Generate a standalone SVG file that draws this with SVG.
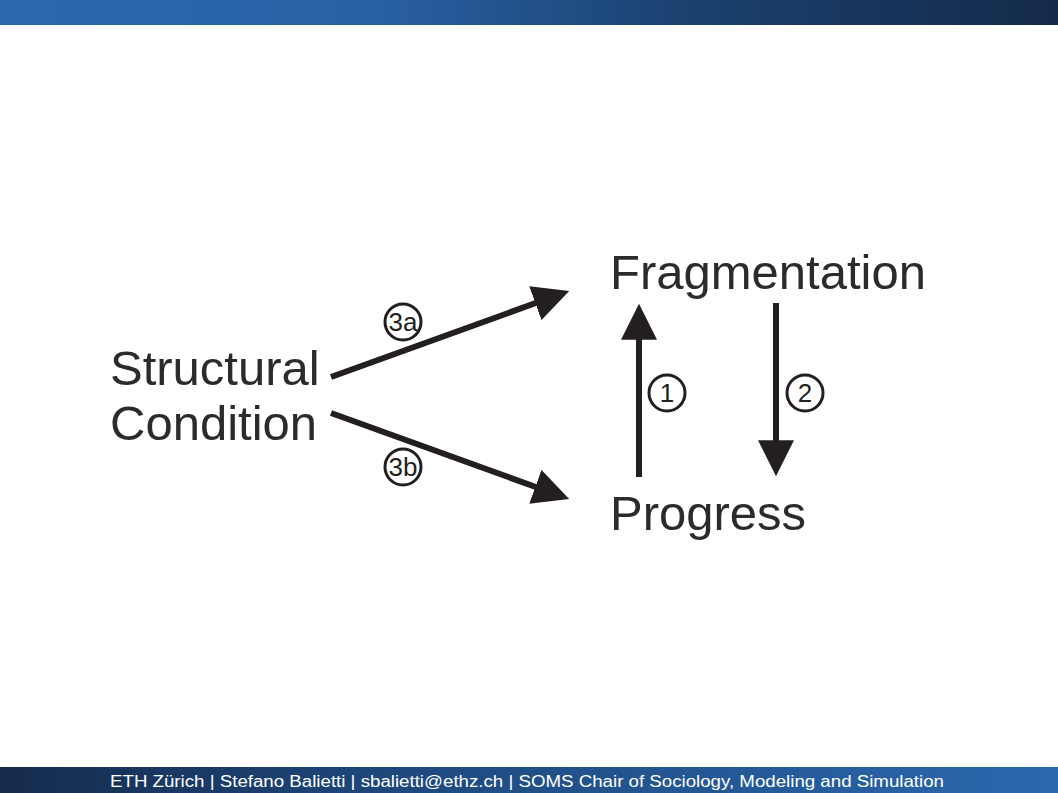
<svg xmlns="http://www.w3.org/2000/svg" width="1058" height="793" viewBox="0 0 1058 793">
<defs>
<linearGradient id="hdr" x1="0" y1="0" x2="1" y2="0">
<stop offset="0" stop-color="#2b68ae"/>
<stop offset="0.35" stop-color="#2961a4"/>
<stop offset="0.65" stop-color="#1b416f"/>
<stop offset="1" stop-color="#142a4a"/>
</linearGradient>
<linearGradient id="ftr" x1="0" y1="0" x2="1" y2="0">
<stop offset="0" stop-color="#152b4d"/>
<stop offset="0.4" stop-color="#1f4a80"/>
<stop offset="1" stop-color="#2b68ae"/>
</linearGradient>
<marker id="ah" viewBox="0 0 10 10" refX="3" refY="5" markerWidth="6" markerHeight="6" markerUnits="strokeWidth" orient="auto">
<path d="M0,0 L10,5 L0,10 Z" fill="#231f20"/>
</marker>
</defs>
<style>
.lbl{font-family:"Liberation Sans",Arial,sans-serif;font-size:49px;fill:#2b2b2b}
.num{font-family:"Liberation Sans",Arial,sans-serif;font-size:26px;fill:#231f20;text-anchor:middle}
.ring{fill:#fff;stroke:#231f20;stroke-width:3}
.edge{stroke:#231f20;stroke-width:6;fill:none;marker-end:url(#ah)}
.foot{font-family:"Liberation Sans",Arial,sans-serif;font-size:16px;fill:#fff}
</style>
<rect x="0" y="0" width="1058" height="793" fill="#fff"/>
<rect x="0" y="0" width="1058" height="25" fill="url(#hdr)"/>
<rect x="0" y="767" width="1058" height="26" fill="url(#ftr)"/>
<text class="foot" x="110" y="787" textLength="834" lengthAdjust="spacingAndGlyphs">ETH Zürich | Stefano Balietti | sbalietti@ethz.ch | SOMS Chair of Sociology, Modeling and Simulation</text>

<g id="node-structural">
<text class="lbl" x="110" y="385">Structural</text>
<text class="lbl" x="110" y="440">Condition</text>
</g>
<g id="node-fragmentation">
<text class="lbl" x="610" y="289">Fragmentation</text>
</g>
<g id="node-progress">
<text class="lbl" x="610" y="530">Progress</text>
</g>

<g id="connectors">
<line class="edge" x1="331" y1="377" x2="545.5" y2="299.5"/>
<line class="edge" x1="331" y1="413" x2="545.5" y2="490.5"/>
<line class="edge" x1="639" y1="477" x2="639" y2="329"/>
<line class="edge" x1="776" y1="303" x2="776" y2="451"/>
</g>

<g id="label-3a">
<circle class="ring" cx="403" cy="322" r="18"/>
<text class="num" x="403" y="331">3a</text>
</g>
<g id="label-3b">
<circle class="ring" cx="403" cy="467" r="18"/>
<text class="num" x="403" y="476">3b</text>
</g>
<g id="label-1">
<circle class="ring" cx="667" cy="393" r="18"/>
<text class="num" x="667" y="402">1</text>
</g>
<g id="label-2">
<circle class="ring" cx="805" cy="393" r="18"/>
<text class="num" x="805" y="402">2</text>
</g>
</svg>
